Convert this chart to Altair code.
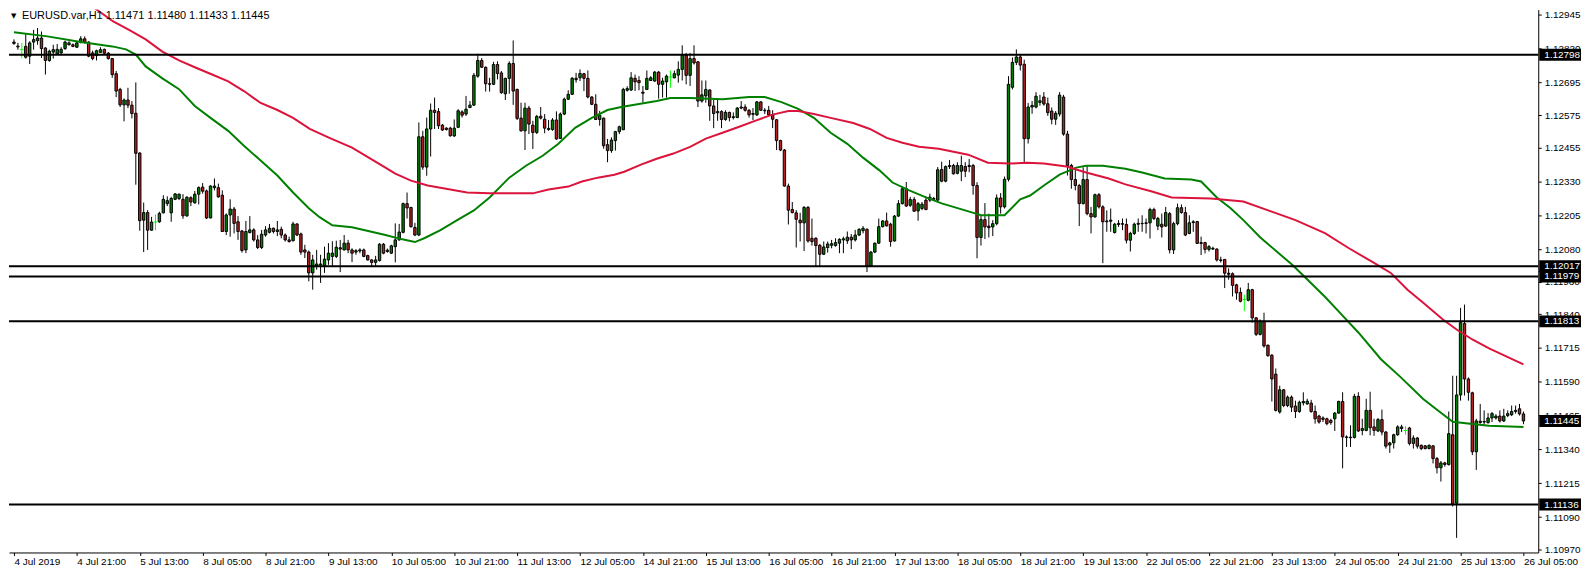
import altair as alt
import pandas as pd
import json

# ---------------- data (EURUSD H1) ----------------
opens = [
1.12845,1.12830,1.12817,1.12829,1.12793,1.12845,1.12850,1.12860,1.12823,1.12777,
1.12808,1.12801,1.12805,1.12821,1.12835,1.12835,1.12826,1.12845,1.12857,1.12845,
1.12805,1.12795,1.12807,1.12818,1.12804,1.12784,1.12728,1.12670,1.12613,1.12631,
1.12612,1.12582,1.12435,1.12187,1.12215,1.12150,1.12180,1.12181,1.12214,1.12248,
1.12214,1.12264,1.12267,1.12264,1.12203,1.12270,1.12251,1.12283,1.12309,1.12295,
1.12195,1.12307,1.12307,1.12279,1.12145,1.12206,1.12228,1.12181,1.12147,1.12077,
1.12141,1.12151,1.12114,1.12086,1.12132,1.12142,1.12157,1.12145,1.12153,1.12132,
1.12114,1.12111,1.12173,1.12136,1.12077,1.12069,1.11992,1.12016,1.12022,1.12018,
1.12040,1.12053,1.12053,1.12085,1.12077,1.12102,1.12077,1.12069,1.12073,1.12077,
1.12056,1.12040,1.12031,1.12038,1.12098,1.12076,1.12065,1.12089,1.12114,1.12142,
1.12248,1.12234,1.12160,1.12132,1.12495,1.12383,1.12524,1.12593,1.12588,1.12538,
1.12527,1.12527,1.12498,1.12530,1.12587,1.12579,1.12603,1.12612,1.12719,1.12777,
1.12752,1.12691,1.12689,1.12762,1.12731,1.12654,1.12711,1.12766,1.12670,1.12564,
1.12517,1.12601,1.12538,1.12511,1.12571,1.12560,1.12526,1.12522,1.12557,1.12489,
1.12579,1.12634,1.12652,1.12711,1.12713,1.12728,1.12711,1.12642,1.12615,1.12559,
1.12564,1.12466,1.12444,1.12481,1.12514,1.12521,1.12667,1.12668,1.12711,1.12703,
1.12660,1.12670,1.12703,1.12701,1.12734,1.12689,1.12698,1.12716,1.12713,1.12723,
1.12744,1.12796,1.12722,1.12784,1.12772,1.12627,1.12646,1.12668,1.12609,1.12584,
1.12588,1.12559,1.12585,1.12566,1.12566,1.12601,1.12605,1.12593,1.12578,1.12576,
1.12624,1.12593,1.12593,1.12576,1.12558,1.12481,1.12446,1.12313,1.12226,1.12214,
1.12187,1.12177,1.12234,1.12120,1.12120,1.12094,1.12061,1.12086,1.12094,1.12093,
1.12102,1.12114,1.12111,1.12124,1.12114,1.12132,1.12148,1.12153,1.12018,1.12069,
1.12102,1.12163,1.12184,1.12172,1.12110,1.12202,1.12248,1.12303,1.12242,1.12263,
1.12221,1.12230,1.12261,1.12261,1.12267,1.12261,1.12374,1.12331,1.12385,1.12389,
1.12360,1.12368,1.12385,1.12385,1.12389,1.12315,1.12123,1.12189,1.12165,1.12162,
1.12174,1.12269,1.12236,1.12338,1.12678,1.12770,1.12790,1.12763,1.12488,1.12605,
1.12605,1.12622,1.12642,1.12617,1.12590,1.12560,1.12579,1.12642,1.12505,1.12389,
1.12337,1.12315,1.12248,1.12337,1.12211,1.12199,1.12281,1.12236,1.12181,1.12187,
1.12141,1.12171,1.12174,1.12171,1.12113,1.12138,1.12172,1.12174,1.12175,1.12177,
1.12226,1.12165,1.12172,1.12165,1.12211,1.12077,1.12174,1.12233,1.12215,1.12138,
1.12178,1.12182,1.12104,1.12104,1.12079,1.12083,1.12080,1.12040,1.12042,1.11991,
1.11989,1.11948,1.11920,1.11894,1.11891,1.11930,1.11826,1.11765,1.11814,1.11725,
1.11688,1.11618,1.11478,1.11560,1.11502,1.11533,1.11500,1.11480,1.11512,1.11508,
1.11511,1.11480,1.11463,1.11456,1.11453,1.11447,1.11453,1.11474,1.11517,1.11386,
1.11385,1.11384,1.11536,1.11410,1.11410,1.11484,1.11423,1.11408,1.11450,1.11404,
1.11356,1.11364,1.11394,1.11417,1.11410,1.11419,1.11362,1.11382,1.11355,1.11353,
1.11343,1.11353,1.11306,1.11272,1.11290,1.11284,1.11394,1.11141,1.11541,1.11805,
1.11600,1.11549,1.11331,1.11444,1.11441,1.11439,1.11456,1.11456,1.11463,1.11445,
1.11465,1.11468,1.11480,1.11490,1.11471]

highs = [
1.12855,1.12842,1.12842,1.12875,1.12848,1.12890,1.12897,1.12884,1.12826,1.12817,
1.12835,1.12838,1.12826,1.12850,1.12848,1.12840,1.12848,1.12867,1.12866,1.12848,
1.12813,1.12817,1.12826,1.12821,1.12808,1.12786,1.12738,1.12676,1.12637,1.12676,
1.12627,1.12696,1.12438,1.12252,1.12224,1.12199,1.12208,1.12218,1.12279,1.12275,
1.12273,1.12287,1.12285,1.12283,1.12275,1.12275,1.12295,1.12312,1.12324,1.12300,
1.12316,1.12341,1.12322,1.12297,1.12212,1.12264,1.12236,1.12202,1.12151,1.12184,
1.12202,1.12157,1.12132,1.12151,1.12165,1.12173,1.12160,1.12184,1.12163,1.12138,
1.12126,1.12181,1.12175,1.12141,1.12096,1.12075,1.12059,1.12077,1.12059,1.12089,
1.12102,1.12109,1.12111,1.12114,1.12132,1.12114,1.12083,1.12080,1.12083,1.12082,
1.12059,1.12043,1.12055,1.12102,1.12102,1.12082,1.12096,1.12175,1.12173,1.12252,
1.12289,1.12236,1.12177,1.12548,1.12517,1.12566,1.12618,1.12640,1.12601,1.12542,
1.12530,1.12532,1.12559,1.12597,1.12593,1.12646,1.12627,1.12731,1.12802,1.12786,
1.12755,1.12713,1.12772,1.12774,1.12738,1.12713,1.12774,1.12851,1.12673,1.12621,
1.12621,1.12609,1.12554,1.12576,1.12605,1.12579,1.12557,1.12564,1.12589,1.12585,
1.12640,1.12667,1.12716,1.12731,1.12744,1.12731,1.12740,1.12645,1.12652,1.12591,
1.12566,1.12487,1.12493,1.12517,1.12536,1.12676,1.12682,1.12734,1.12725,1.12719,
1.12683,1.12740,1.12719,1.12738,1.12738,1.12713,1.12725,1.12740,1.12740,1.12774,
1.12833,1.12805,1.12805,1.12833,1.12774,1.12703,1.12703,1.12670,1.12631,1.12631,
1.12593,1.12593,1.12588,1.12585,1.12605,1.12627,1.12615,1.12597,1.12601,1.12627,
1.12627,1.12601,1.12609,1.12593,1.12560,1.12484,1.12450,1.12322,1.12254,1.12224,
1.12214,1.12239,1.12239,1.12193,1.12124,1.12099,1.12108,1.12108,1.12114,1.12120,
1.12120,1.12126,1.12145,1.12136,1.12151,1.12157,1.12165,1.12157,1.12073,1.12104,
1.12193,1.12187,1.12215,1.12177,1.12206,1.12261,1.12312,1.12328,1.12273,1.12273,
1.12254,1.12254,1.12275,1.12285,1.12273,1.12383,1.12403,1.12389,1.12409,1.12395,
1.12401,1.12425,1.12401,1.12413,1.12395,1.12327,1.12205,1.12250,1.12211,1.12187,
1.12282,1.12287,1.12348,1.12719,1.12788,1.12818,1.12800,1.12780,1.12620,1.12627,
1.12660,1.12650,1.12660,1.12640,1.12603,1.12590,1.12660,1.12650,1.12517,1.12395,
1.12382,1.12321,1.12382,1.12389,1.12236,1.12285,1.12287,1.12242,1.12223,1.12230,
1.12177,1.12187,1.12193,1.12193,1.12144,1.12178,1.12193,1.12205,1.12193,1.12233,
1.12233,1.12199,1.12211,1.12236,1.12217,1.12181,1.12248,1.12245,1.12236,1.12205,
1.12187,1.12184,1.12126,1.12107,1.12095,1.12089,1.12083,1.12052,1.12042,1.12009,
1.11994,1.11952,1.11938,1.11912,1.11955,1.11933,1.11829,1.11820,1.11845,1.11727,
1.11692,1.11639,1.11575,1.11563,1.11539,1.11539,1.11520,1.11520,1.11551,1.11527,
1.11523,1.11502,1.11468,1.11462,1.11457,1.11453,1.11478,1.11520,1.11551,1.11392,
1.11429,1.11545,1.11551,1.11453,1.11527,1.11553,1.11453,1.11456,1.11487,1.11408,
1.11368,1.11398,1.11429,1.11431,1.11426,1.11423,1.11392,1.11386,1.11358,1.11356,
1.11358,1.11355,1.11312,1.11297,1.11294,1.11480,1.11612,1.11612,1.11863,1.11875,
1.11606,1.11553,1.11453,1.11508,1.11484,1.11474,1.11478,1.11470,1.11484,1.11490,
1.11484,1.11502,1.11502,1.11508,1.11480]

lows = [
1.12835,1.12817,1.12786,1.12784,1.12764,1.12817,1.12835,1.12786,1.12725,1.12772,
1.12784,1.12799,1.12801,1.12816,1.12833,1.12826,1.12823,1.12840,1.12840,1.12789,
1.12778,1.12777,1.12805,1.12799,1.12780,1.12713,1.12642,1.12605,1.12552,1.12601,
1.12563,1.12318,1.12148,1.12069,1.12077,1.12148,1.12150,1.12177,1.12212,1.12239,
1.12181,1.12261,1.12261,1.12192,1.12199,1.12239,1.12248,1.12245,1.12285,1.12191,
1.12194,1.12297,1.12270,1.12143,1.12132,1.12126,1.12138,1.12114,1.12067,1.12065,
1.12138,1.12108,1.12080,1.12080,1.12126,1.12138,1.12138,1.12128,1.12120,1.12108,
1.12104,1.12108,1.12128,1.12059,1.12047,1.11961,1.11930,1.12004,1.11955,1.11992,
1.12022,1.12016,1.12047,1.11995,1.12075,1.12065,1.12032,1.12059,1.12065,1.12050,
1.12038,1.12016,1.12018,1.12034,1.12061,1.12067,1.12062,1.12031,1.12111,1.12138,
1.12193,1.12159,1.12128,1.12128,1.12373,1.12351,1.12422,1.12524,1.12524,1.12517,
1.12518,1.12495,1.12495,1.12527,1.12566,1.12572,1.12601,1.12609,1.12713,1.12750,
1.12662,1.12662,1.12686,1.12707,1.12654,1.12631,1.12654,1.12613,1.12557,1.12514,
1.12446,1.12505,1.12450,1.12505,1.12559,1.12508,1.12517,1.12517,1.12484,1.12487,
1.12575,1.12631,1.12650,1.12695,1.12701,1.12664,1.12637,1.12612,1.12557,1.12536,
1.12451,1.12401,1.12436,1.12444,1.12505,1.12520,1.12662,1.12664,1.12664,1.12667,
1.12621,1.12668,1.12701,1.12698,1.12636,1.12640,1.12640,1.12676,1.12711,1.12695,
1.12703,1.12689,1.12683,1.12762,1.12605,1.12621,1.12621,1.12554,1.12527,1.12554,
1.12527,1.12554,1.12552,1.12559,1.12564,1.12597,1.12588,1.12566,1.12557,1.12572,
1.12591,1.12579,1.12572,1.12527,1.12446,1.12442,1.12311,1.12171,1.12212,1.12086,
1.12108,1.12073,1.12104,1.12093,1.12016,1.12014,1.12058,1.12067,1.12083,1.12089,
1.12065,1.12065,1.12099,1.12080,1.12108,1.12128,1.12138,1.11995,1.12016,1.12065,
1.12099,1.12160,1.12163,1.12089,1.12108,1.12199,1.12245,1.12236,1.12236,1.12218,
1.12185,1.12224,1.12224,1.12254,1.12261,1.12258,1.12327,1.12327,1.12376,1.12356,
1.12356,1.12331,1.12346,1.12364,1.12281,1.12046,1.12093,1.12117,1.12123,1.12128,
1.12168,1.12211,1.12230,1.12330,1.12670,1.12760,1.12740,1.12399,1.12470,1.12580,
1.12600,1.12610,1.12610,1.12572,1.12541,1.12539,1.12570,1.12499,1.12352,1.12303,
1.12297,1.12165,1.12245,1.12205,1.12138,1.12196,1.12230,1.12028,1.12144,1.12144,
1.12138,1.12162,1.12150,1.12101,1.12071,1.12132,1.12144,1.12144,1.12138,1.12119,
1.12187,1.12150,1.12123,1.12162,1.12064,1.12062,1.12168,1.12211,1.12128,1.12135,
1.12144,1.12099,1.12058,1.12064,1.12071,1.12077,1.12034,1.12030,1.11936,1.11967,
1.11905,1.11893,1.11883,1.11851,1.11887,1.11808,1.11759,1.11761,1.11716,1.11683,
1.11517,1.11480,1.11472,1.11496,1.11496,1.11478,1.11456,1.11475,1.11502,1.11505,
1.11475,1.11435,1.11435,1.11441,1.11429,1.11431,1.11408,1.11472,1.11270,1.11349,
1.11349,1.11380,1.11404,1.11392,1.11407,1.11392,1.11390,1.11404,1.11392,1.11343,
1.11327,1.11343,1.11390,1.11404,1.11394,1.11355,1.11343,1.11343,1.11337,1.11340,
1.11340,1.11288,1.11251,1.11221,1.11276,1.11280,1.11129,1.11013,1.11520,1.11539,
1.11520,1.11319,1.11264,1.11435,1.11431,1.11435,1.11441,1.11450,1.11439,1.11441,
1.11459,1.11463,1.11472,1.11465,1.11433]

closes = [
1.12840,1.12827,1.12817,1.12789,1.12842,1.12854,1.12860,1.12821,1.12777,1.12811,
1.12817,1.12818,1.12818,1.12845,1.12842,1.12829,1.12842,1.12857,1.12845,1.12793,
1.12784,1.12813,1.12817,1.12804,1.12784,1.12725,1.12664,1.12613,1.12631,1.12612,
1.12581,1.12434,1.12185,1.12215,1.12150,1.12180,1.12180,1.12212,1.12264,1.12259,
1.12267,1.12284,1.12283,1.12203,1.12272,1.12254,1.12283,1.12307,1.12294,1.12195,
1.12313,1.12313,1.12273,1.12145,1.12206,1.12228,1.12175,1.12145,1.12075,1.12145,
1.12151,1.12114,1.12086,1.12135,1.12151,1.12157,1.12145,1.12151,1.12132,1.12114,
1.12108,1.12173,1.12132,1.12069,1.12069,1.11992,1.12040,1.12025,1.12025,1.12043,
1.12065,1.12065,1.12087,1.12080,1.12102,1.12077,1.12065,1.12074,1.12077,1.12053,
1.12040,1.12031,1.12040,1.12098,1.12065,1.12071,1.12092,1.12114,1.12143,1.12248,
1.12232,1.12163,1.12132,1.12495,1.12383,1.12524,1.12593,1.12585,1.12536,1.12520,
1.12522,1.12499,1.12527,1.12591,1.12575,1.12597,1.12612,1.12722,1.12777,1.12752,
1.12691,1.12689,1.12762,1.12729,1.12658,1.12711,1.12766,1.12664,1.12563,1.12517,
1.12601,1.12542,1.12511,1.12570,1.12564,1.12527,1.12522,1.12557,1.12487,1.12579,
1.12634,1.12652,1.12711,1.12706,1.12729,1.12711,1.12642,1.12615,1.12559,1.12575,
1.12462,1.12444,1.12483,1.12514,1.12532,1.12670,1.12673,1.12713,1.12698,1.12695,
1.12656,1.12711,1.12713,1.12734,1.12689,1.12701,1.12719,1.12716,1.12728,1.12744,
1.12796,1.12722,1.12784,1.12768,1.12627,1.12650,1.12670,1.12609,1.12581,1.12588,
1.12559,1.12585,1.12566,1.12569,1.12601,1.12605,1.12593,1.12576,1.12581,1.12624,
1.12593,1.12591,1.12576,1.12560,1.12481,1.12446,1.12313,1.12224,1.12215,1.12190,
1.12177,1.12234,1.12110,1.12108,1.12093,1.12061,1.12088,1.12099,1.12100,1.12104,
1.12116,1.12118,1.12124,1.12114,1.12132,1.12153,1.12157,1.12018,1.12069,1.12102,
1.12163,1.12184,1.12166,1.12108,1.12202,1.12248,1.12303,1.12239,1.12263,1.12220,
1.12248,1.12246,1.12226,1.12272,1.12264,1.12373,1.12331,1.12385,1.12389,1.12358,
1.12389,1.12389,1.12368,1.12389,1.12315,1.12123,1.12189,1.12162,1.12159,1.12174,
1.12269,1.12236,1.12338,1.12689,1.12770,1.12790,1.12760,1.12488,1.12605,1.12611,
1.12645,1.12628,1.12616,1.12584,1.12560,1.12582,1.12649,1.12505,1.12389,1.12337,
1.12315,1.12248,1.12337,1.12211,1.12199,1.12281,1.12236,1.12181,1.12184,1.12183,
1.12172,1.12175,1.12172,1.12113,1.12138,1.12172,1.12175,1.12175,1.12177,1.12226,
1.12193,1.12193,1.12162,1.12215,1.12077,1.12174,1.12233,1.12215,1.12132,1.12177,
1.12181,1.12101,1.12101,1.12079,1.12089,1.12080,1.12040,1.12038,1.11991,1.11987,
1.11946,1.11918,1.11887,1.11894,1.11930,1.11826,1.11765,1.11814,1.11722,1.11686,
1.11600,1.11484,1.11560,1.11502,1.11533,1.11496,1.11480,1.11514,1.11517,1.11518,
1.11480,1.11453,1.11441,1.11451,1.11435,1.11439,1.11474,1.11517,1.11386,1.11384,
1.11383,1.11536,1.11408,1.11417,1.11484,1.11420,1.11410,1.11450,1.11404,1.11352,
1.11364,1.11394,1.11423,1.11423,1.11410,1.11362,1.11382,1.11352,1.11343,1.11343,
1.11355,1.11306,1.11272,1.11290,1.11284,1.11398,1.11138,1.11541,1.11808,1.11600,
1.11551,1.11331,1.11445,1.11439,1.11443,1.11456,1.11472,1.11463,1.11445,1.11463,
1.11472,1.11480,1.11484,1.11471,1.11445]

# moving averages (bar index, value)
green_bar = [0, 8.5, 17, 25, 28.5, 31, 33.5, 37.75, 42, 46, 50, 54.5, 58.5, 62.75, 67, 71, 75,
             77.75, 81, 86, 94.5, 98.5, 102, 104.5, 108.5, 112.75, 117, 121, 126, 130.25, 134.5,
             138.5, 142.75, 147, 151, 154.5, 163.5, 167, 172, 180.25, 187, 191, 195.25, 199.5,
             203.5, 207.75, 212, 216, 220.25, 223.5, 227.75, 232, 236, 244.5, 246, 252, 256,
             258.5, 262, 266, 270.25, 272.75, 277, 282.75, 287, 292.75, 299.5, 302, 306, 309.5,
             312.75, 317, 325.25, 333.5, 337.75, 342, 347.75, 352.75, 358.5, 362.75, 366, 371,
             375.25, 384]
green_val = [1.12881, 1.12866, 1.12845, 1.12829, 1.12818, 1.12799, 1.12755, 1.12711, 1.12671,
             1.12609, 1.12565, 1.12517, 1.12462, 1.12407, 1.12352, 1.12289, 1.12231, 1.12198,
             1.12168, 1.12161, 1.12132, 1.12117, 1.12106, 1.12121, 1.12150, 1.12187, 1.12223,
             1.12271, 1.12344, 1.12388, 1.12425, 1.12469, 1.12528, 1.12565, 1.12594, 1.12605,
             1.12627, 1.12638, 1.12638, 1.12634, 1.12642, 1.12642, 1.12623, 1.12598, 1.12565,
             1.12510, 1.12469, 1.12418, 1.12370, 1.12326, 1.12297, 1.12271, 1.12249, 1.12212,
             1.12205, 1.12205, 1.12264, 1.12278, 1.12315, 1.12355, 1.12381, 1.12388, 1.12388,
             1.12377, 1.12363, 1.12341, 1.12337, 1.12330, 1.12271, 1.12231, 1.12187, 1.12124,
             1.12021, 1.11904, 1.11838, 1.11772, 1.11673, 1.11607, 1.11526, 1.11478, 1.11442,
             1.11434, 1.11427, 1.11423]
red_bar = [0, 18.25, 25.25, 29.5, 33.5, 37.75, 42, 46, 50.25, 54.5, 58.5, 62.75, 67, 71, 75.25,
           80.25, 86, 90.25, 94.5, 97, 101, 105.25, 111, 115.25, 121, 132, 136, 141, 144.5, 148.5,
           152.75, 155.25, 159.5, 163.5, 167.75, 172, 176, 180.25, 184.5, 188.5, 192.75, 197,
           199.5, 203.5, 207.75, 213.5, 217.75, 222, 226, 230.25, 235.25, 242.75, 247.75, 253.5,
           257.75, 262, 267.75, 272.75, 278.5, 282.75, 289.5, 294.5, 304.5, 312.75, 326, 333.5,
           339.5, 346, 350.25, 354.5, 358.5, 363.5, 367, 371, 375.25, 384]
red_val = [1.13160, 1.12994, 1.12921, 1.12888, 1.12855, 1.12810, 1.12777, 1.12752, 1.12726,
           1.12700, 1.12664, 1.12620, 1.12594, 1.12565, 1.12524, 1.12491, 1.12455, 1.12418,
           1.12381, 1.12359, 1.12333, 1.12315, 1.12300, 1.12289, 1.12286, 1.12286, 1.12300,
           1.12311, 1.12330, 1.12344, 1.12355, 1.12366, 1.12392, 1.12414, 1.12433, 1.12458,
           1.12488, 1.12510, 1.12532, 1.12554, 1.12576, 1.12590, 1.12590, 1.12579, 1.12565,
           1.12546, 1.12524, 1.12491, 1.12473, 1.12458, 1.12451, 1.12429, 1.12399, 1.12396,
           1.12399, 1.12396, 1.12385, 1.12363, 1.12341, 1.12319, 1.12293, 1.12271, 1.12267,
           1.12256, 1.12187, 1.12139, 1.12084, 1.12029, 1.11992, 1.11930, 1.11882, 1.11820,
           1.11783, 1.11746, 1.11713, 1.11654]

levels = [1.12798, 1.12017, 1.11979, 1.11813, 1.11136]
current_price = 1.11445

y_ticks = [1.12945, 1.12820, 1.12695, 1.12575, 1.12455, 1.12330, 1.12205, 1.12080, 1.11960,
           1.11840, 1.11715, 1.11590, 1.11465, 1.11340, 1.11215, 1.11090, 1.10970]
x_tick_labels = ["4 Jul 2019", "4 Jul 21:00", "5 Jul 13:00", "8 Jul 05:00", "8 Jul 21:00",
                 "9 Jul 13:00", "10 Jul 05:00", "10 Jul 21:00", "11 Jul 13:00", "12 Jul 05:00",
                 "14 Jul 21:00", "15 Jul 13:00", "16 Jul 05:00", "16 Jul 21:00", "17 Jul 13:00",
                 "18 Jul 05:00", "18 Jul 21:00", "19 Jul 13:00", "22 Jul 05:00", "22 Jul 21:00",
                 "23 Jul 13:00", "24 Jul 05:00", "24 Jul 21:00", "25 Jul 13:00", "26 Jul 05:00"]
bars_per_label = 16
header_text = "EURUSD.var,H1  1.11471 1.11480 1.11433 1.11445"

# ---------------- layout ----------------
W, H = 1538, 546
YMIN, YMAX = 1.10959, 1.12965
XMIN, XMAX = 0, 386.5
FONT = "Liberation Sans"

n = len(opens)
df = pd.DataFrame({"bar": list(range(n)), "open": opens, "high": highs,
                   "low": lows, "close": closes})
df["kind"] = ["up" if c > o else ("down" if c < o else "doji")
              for o, c in zip(opens, closes)]

xs = alt.Scale(domain=[XMIN, XMAX], nice=False, zero=False)
ys = alt.Scale(domain=[YMIN, YMAX], nice=False, zero=False)

x_vals = [k * bars_per_label for k in range(len(x_tick_labels))]
label_expr = json.dumps(x_tick_labels) + "[round(datum.value / %d)]" % bars_per_label

x_axis = alt.Axis(values=x_vals, labelExpr=label_expr, title=None, grid=False,
                  labelAlign="left", labelPadding=1, tickSize=3, tickColor="black",
                  domainColor="black", labelColor="black", labelFont=FONT, labelFontSize=10,
                  labelOverlap=False, labelBound=False, labelFlush=False)
y_axis = alt.Axis(orient="right", values=y_ticks, format=".5f", title=None, grid=False,
                  tickSize=3, tickColor="black", domainColor="black", labelColor="black",
                  labelFont=FONT, labelFontSize=10, labelPadding=3, labelOverlap=False,
                  labelBound=False)


def X(field):
    return alt.X(field, scale=xs, axis=x_axis)


def Y(field):
    return alt.Y(field, scale=ys, axis=y_axis)


base = alt.Chart(df)

wicks = base.mark_rule(strokeWidth=1, clip=True).encode(
    x=X("bar:Q"), y=Y("low:Q"), y2="high:Q",
    color=alt.condition(alt.datum.kind == "doji", alt.value("#00ff00"), alt.value("black")),
)

bodies = base.transform_filter(alt.datum.kind != "doji").mark_bar(
    width=2.4, stroke="black", strokeWidth=1, clip=True).encode(
    x=X("bar:Q"), y=Y("open:Q"), y2="close:Q",
    fill=alt.Fill("kind:N", scale=alt.Scale(domain=["up", "down"],
                                             range=["#008000", "#b22222"]), legend=None),
)

dojis = base.transform_filter(alt.datum.kind == "doji").transform_calculate(
    b0="datum.bar - 0.45", b1="datum.bar + 0.45").mark_rule(
    strokeWidth=1, color="#00ff00", clip=True).encode(
    x=X("b0:Q"), x2="b1:Q", y=Y("open:Q"),
)

ma_green = alt.Chart(pd.DataFrame({"bar": green_bar, "v": green_val})).mark_line(
    color="#008000", strokeWidth=2, clip=True).encode(x=X("bar:Q"), y=Y("v:Q"))
ma_red = alt.Chart(pd.DataFrame({"bar": red_bar, "v": red_val})).mark_line(
    color="#dc143c", strokeWidth=2, clip=True).encode(x=X("bar:Q"), y=Y("v:Q"))

lev_df = pd.DataFrame({"price": levels})
level_lines = alt.Chart(lev_df).mark_rule(color="black", strokeWidth=2).encode(
    y=Y("price:Q"))

half = 6.0 * (YMAX - YMIN) / H
box_df = pd.DataFrame({"price": levels + [current_price]})
box_df["lbl"] = [f"{p:.5f}" for p in box_df["price"]]
boxes = alt.Chart(box_df).transform_calculate(
    lo=f"datum.price - {half}", hi=f"datum.price + {half}").mark_rect(color="black").encode(
    x=alt.value(W + 1), x2=alt.value(W + 43),
    y=Y("lo:Q"), y2="hi:Q")
box_text = alt.Chart(box_df).mark_text(color="white", align="left", baseline="middle",
                                       font=FONT, fontSize=10).encode(
    x=alt.value(W + 6), y=Y("price:Q"), text="lbl:N")

header_df = pd.DataFrame({"t": [header_text], "arrow": ["\u25BC"]})
header = alt.Chart(header_df).mark_text(align="left", baseline="middle", font=FONT,
                                        fontSize=11, color="black").encode(
    x=alt.value(13), y=alt.value(6), text="t:N")
arrow = alt.Chart(header_df).mark_text(align="left", baseline="middle", font="DejaVu Sans",
                                       fontSize=7, color="black").encode(
    x=alt.value(2), y=alt.value(6), text="arrow:N")

chart = alt.layer(wicks, bodies, dojis, ma_green, ma_red, level_lines, boxes, box_text,
                  header, arrow).properties(
    width=W, height=H, padding={"left": 0, "top": 0, "right": 0, "bottom": 0},
    background="white"
).configure_view(stroke=None)

chart.save("out.html", embed_options={"renderer": "svg", "actions": False})
